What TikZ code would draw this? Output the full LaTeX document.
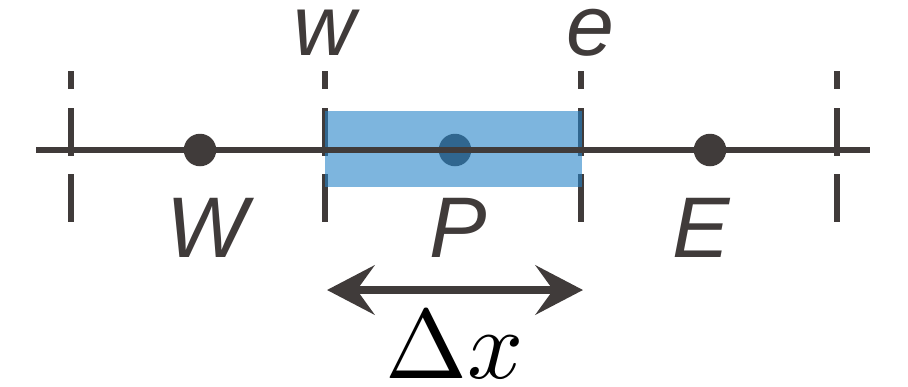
\documentclass[tikz,border=0pt]{standalone}
\usepackage{fontspec}
\newfontfamily\labelfont{Liberation Sans}
\usetikzlibrary{arrows.meta}
\definecolor{ink}{HTML}{403B3A}
\definecolor{cellblue}{RGB}{38,132,200}
\tikzset{
  gridline/.style={draw=ink, line width=3.4pt},
  tick/.style={draw=ink, line width=3.4pt},
  pt/.style={circle, fill=ink, minimum size=18.5pt, inner sep=0pt},
  lbl/.style={text=ink, font=\labelfont\itshape\fontsize{49}{55}\selectfont, anchor=base, inner sep=0pt},
  dxarrow/.style={draw=ink, line width=4.5pt, {Stealth[length=27pt, width=28pt, inset=10pt]}-{Stealth[length=27pt, width=28pt, inset=10pt]}},
}
\begin{document}
\begin{tikzpicture}[x=0.02cm, y=-0.02cm]
\useasboundingbox (0,0) rectangle (908,386);
% dashed face lines
\foreach \name/\xx in {f1/71, fw/325, fe/581, f2/837}{
  \coordinate (\name a1) at (\xx,71);  \coordinate (\name b1) at (\xx,89);
  \coordinate (\name a2) at (\xx,108); \coordinate (\name b2) at (\xx,156);
  \coordinate (\name a3) at (\xx,174); \coordinate (\name b3) at (\xx,222);
  \draw[tick] (\name a1) -- (\name b1);
  \draw[tick] (\name a2) -- (\name b2);
  \draw[tick] (\name a3) -- (\name b3);
}
% P node under the cell
\node[pt] (P) at (455,150) {};
% cell
\fill[cellblue, opacity=0.6] (325,111) rectangle (582,187);
% grid line
\coordinate (L) at (36,150);
\coordinate (R) at (870,150);
\draw[gridline] (L) -- (R);
\node[pt] (W) at (200,150) {};
\node[pt] (E) at (710,150) {};
% labels
\node[lbl] (lw) at (325,55) {w};
\node[lbl] (le) at (590,55) {e};
\node[lbl] (lW) at (207,257) {W};
\node[lbl] (lP) at (458,257) {P};
\node[lbl] (lE) at (701,257) {E};
% delta x arrow
\coordinate (AL) at (327,290);
\coordinate (AR) at (583,290);
\draw[dxarrow] (AL) -- (AR);
\node[anchor=base, inner sep=0pt] (dx) at (455,378) {\scalebox{5.6}{$\Delta x$}};
\end{tikzpicture}
\end{document}
